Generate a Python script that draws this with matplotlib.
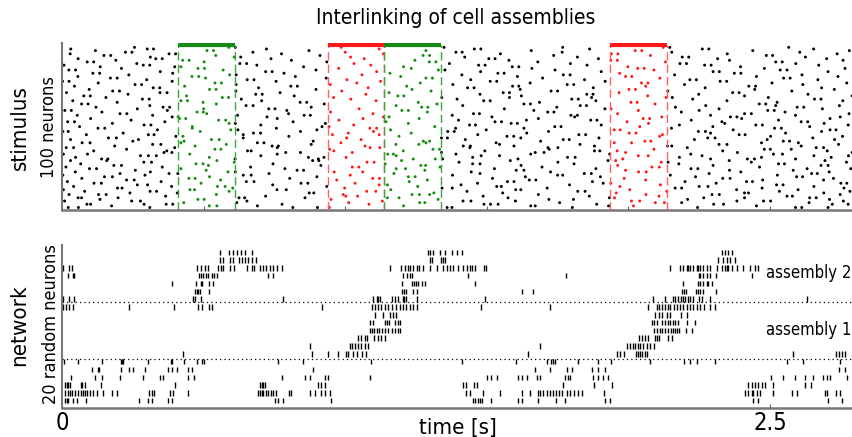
import numpy as np
import matplotlib
matplotlib.use('Agg')
import matplotlib.pyplot as plt
from matplotlib import font_manager

# --- stimulus windows (ms) ---
win_start = [410, 939, 1137, 1935]
win_end = [611, 1137, 1338, 2136]
win_kind = ['green', 'red', 'green', 'red']

# --- stimulus raster: spike times (ms) of the 100 input neurons, neuron 0 at the bottom ---
stim_spikes = [
    [22, 58, 310, 815, 902, 944, 1360, 1377, 1802, 2244, 2590, 2612, 2705],
    [175, 520, 547, 690, 1206, 1655, 1671, 1930, 2018, 2452],
    [88, 101, 290, 368, 391, 777, 1084, 1490, 1513, 1540, 1888, 2301, 2336, 2720, 2776],
    [430, 617, 1012, 1263, 1281, 1757, 2095, 2127, 2188, 2638],
    [9, 246, 277, 653, 1131, 1416, 1444, 1601, 2011, 2040, 2383, 2477, 2502, 2759],
    [134, 480, 502, 950, 1328, 1719, 1806, 2209, 2710],
    [57, 69, 198, 625, 645, 858, 1149, 1190, 1575, 1933, 1951, 2266, 2410, 2640, 2663],
    [366, 719, 1002, 1044, 1487, 1862, 2108, 2560, 2579],
    [25, 129, 156, 545, 993, 1236, 1262, 1298, 1682, 2062, 2295, 2321, 2748],
    [240, 407, 873, 889, 1313, 1556, 1957, 2410, 2424, 2690],
    [80, 311, 334, 590, 1076, 1108, 1430, 1821, 1847, 2135, 2533, 2782],
    [5, 452, 468, 759, 792, 1161, 1602, 1620, 2005, 2382, 2599],
    [196, 212, 603, 998, 1342, 1378, 1713, 2165, 2188, 2472, 2761],
    [41, 387, 549, 576, 935, 1256, 1535, 1551, 1970, 2250, 2281, 2655],
    [266, 302, 744, 1120, 1149, 1409, 1792, 2113, 2523, 2546],
    [113, 139, 491, 844, 868, 1035, 1467, 1911, 1938, 2310, 2750, 2771],
    [19, 350, 651, 678, 1226, 1573, 1596, 1873, 2200, 2417, 2438],
    [228, 255, 560, 970, 1290, 1650, 1673, 2061, 2474, 2689],
    [70, 448, 470, 804, 1097, 1121, 1520, 1985, 2333, 2359, 2724],
    [150, 178, 521, 900, 1223, 1247, 1636, 1901, 2237, 2594, 2615],
    [3, 293, 640, 668, 1018, 1379, 1750, 1768, 2148, 2526],
    [205, 378, 409, 731, 1172, 1476, 1844, 1869, 2285, 2647, 2667],
    [47, 312, 586, 612, 961, 1062, 1445, 1725, 2036, 2063, 2397, 2709],
    [259, 509, 830, 853, 1281, 1604, 1631, 1990, 2357, 2582],
    [97, 122, 420, 787, 1180, 1213, 1527, 1885, 2221, 2245, 2631, 2785],
    [14, 354, 666, 1025, 1048, 1335, 1695, 2083, 2109, 2463],
    [183, 210, 517, 914, 1267, 1284, 1621, 1962, 2299, 2680, 2705],
    [66, 473, 498, 745, 1141, 1450, 1476, 1808, 2178, 2530, 2551],
    [289, 316, 608, 1077, 1102, 1402, 1751, 2116, 2140, 2434, 2770],
    [30, 158, 547, 885, 907, 1199, 1583, 1928, 1955, 2356, 2694],
    [140, 162, 611, 905, 1240, 1318, 1344, 1610, 1980, 2290, 2420, 2445, 2590],
    [48, 520, 870, 925, 1003, 1450, 1785, 1812, 2180, 2470, 2716],
    [277, 305, 333, 702, 1180, 1480, 1545, 2035, 2070, 2260, 2655, 2777],
    [5, 90, 451, 760, 1150, 1170, 1391, 1655, 1934, 2220, 2512, 2544],
    [360, 388, 790, 842, 1025, 1340, 1671, 1702, 1990, 2385, 2790],
    [112, 370, 655, 668, 960, 1205, 1493, 1880, 1899, 1960, 2333, 2702],
    [228, 540, 561, 945, 1310, 1333, 1720, 2090, 2480, 2501, 2575],
    [15, 41, 398, 760, 1088, 1122, 1440, 1716, 1751, 2208, 2663, 2689],
    [186, 470, 742, 764, 1070, 1417, 1442, 1596, 1880, 2138, 2153, 2610],
    [320, 349, 580, 880, 1179, 1260, 1545, 1829, 2320, 2348, 2742],
    [71, 99, 420, 690, 713, 985, 1285, 1533, 1950, 2011, 2470, 2600],
    [250, 431, 887, 1276, 1298, 1690, 2058, 2079, 2547, 2569],
    [30, 270, 528, 555, 1056, 1424, 1770, 1791, 2233, 2490, 2728],
    [164, 192, 640, 1005, 1340, 1361, 1620, 1896, 2280, 2306, 2651],
    [402, 427, 801, 1190, 1571, 1595, 2110, 2502, 2756],
    [86, 305, 325, 640, 955, 1120, 1468, 1825, 1849, 2120, 2391, 2412],
    [216, 676, 701, 1011, 1233, 1641, 2003, 2027, 2290, 2555],
    [3, 22, 488, 842, 1100, 1362, 1385, 1718, 2247, 2272, 2682],
    [337, 596, 621, 900, 1160, 1498, 1950, 1971, 2370, 2712, 2733],
    [127, 151, 460, 757, 1087, 1111, 1390, 1631, 2152, 2516, 2540],
    [62, 460, 918, 943, 1316, 1740, 1762, 2040, 2298, 2640],
    [290, 314, 702, 1030, 1439, 1460, 1904, 2180, 2450, 2473, 2776],
    [178, 590, 612, 930, 1223, 1586, 1608, 2071, 2340, 2691],
    [20, 44, 363, 816, 1144, 1529, 1552, 1995, 2330, 2610, 2633],
    [244, 553, 578, 978, 1400, 1640, 1867, 1889, 2222, 2530],
    [101, 415, 437, 760, 1063, 1261, 1682, 2052, 2075, 2400, 2712],
    [389, 410, 724, 1135, 1155, 1518, 1810, 2118, 2360, 2383, 2748],
    [54, 320, 620, 855, 877, 1378, 1797, 1820, 2290, 2590],
    [205, 229, 511, 800, 1098, 1453, 1474, 1962, 2410, 2434, 2779],
    [141, 477, 499, 948, 1290, 1715, 1737, 2187, 2553],
    [10, 33, 372, 794, 1200, 1223, 1666, 2035, 2250, 2492, 2515],
    [266, 500, 730, 752, 1049, 1562, 1917, 1939, 2320, 2685],
    [120, 357, 380, 880, 1270, 1292, 1747, 2166, 2596, 2619],
    [310, 650, 675, 1180, 1415, 1830, 1852, 2273, 2520, 2745],
    [69, 92, 545, 926, 1324, 1631, 1654, 2094, 2462, 2485],
    [195, 498, 841, 864, 1258, 1686, 2009, 2031, 2525],
    [38, 420, 443, 705, 1109, 1489, 1512, 1885, 2348, 2757],
    [284, 308, 633, 1020, 1395, 1800, 1823, 2227, 2657, 2680],
    [155, 566, 588, 959, 1341, 1580, 1870, 2133, 2155, 2494],
    [77, 100, 440, 820, 1186, 1207, 1622, 2068, 2410, 2790],
    [233, 684, 707, 1073, 1476, 1853, 1875, 2248, 2634],
    [16, 346, 371, 770, 1155, 1558, 1580, 1967, 2368, 2391],
    [179, 203, 614, 988, 1303, 1727, 1750, 2139, 2577],
    [96, 521, 544, 897, 1236, 1618, 2002, 2025, 2446, 2727],
    [322, 345, 694, 1081, 1432, 1455, 1876, 2271, 2682],
    [44, 433, 808, 831, 1217, 1591, 1613, 2061, 2425, 2449],
    [258, 281, 615, 947, 1380, 1784, 1807, 2198, 2616],
    [128, 540, 563, 1041, 1265, 1653, 2046, 2069, 2507, 2771],
    [2, 25, 389, 756, 1125, 1512, 1535, 1918, 2324, 2347],
    [299, 654, 678, 1006, 1443, 1845, 2217, 2240, 2669],
    [171, 195, 507, 933, 1285, 1308, 1697, 2111, 2548, 2571],
    [56, 459, 483, 824, 1196, 1608, 1990, 2012, 2452, 2740],
    [236, 592, 615, 1059, 1412, 1770, 1794, 2163, 2613],
    [109, 133, 391, 784, 1158, 1539, 1561, 1969, 2374, 2397],
    [347, 719, 742, 1111, 1478, 1904, 2299, 2321, 2705],
    [24, 48, 569, 897, 1329, 1352, 1741, 2090, 2536, 2560],
    [210, 480, 503, 977, 1233, 1659, 2033, 2056, 2480, 2765],
    [135, 398, 420, 853, 1206, 1590, 1613, 1998, 2396],
    [7, 287, 310, 688, 1090, 1471, 1494, 1854, 2269, 2292, 2672],
    [264, 628, 652, 1031, 1368, 1795, 2182, 2205, 2591],
    [89, 112, 502, 935, 1297, 1320, 1680, 2131, 2520, 2543],
    [190, 426, 449, 810, 1246, 1578, 1938, 1961, 2357, 2758],
    [57, 331, 354, 738, 1067, 1507, 1529, 1894, 2315, 2700],
    [312, 608, 631, 1019, 1422, 1820, 2190, 2213, 2625],
    [148, 172, 543, 911, 1275, 1298, 1736, 2078, 2487, 2509],
    [29, 378, 401, 775, 1135, 1548, 1940, 1963, 2349, 2737],
    [224, 247, 674, 1000, 1391, 1413, 1766, 2153, 2605],
    [118, 512, 535, 872, 1285, 1657, 2024, 2047, 2439, 2780],
    [31, 301, 323, 722, 1120, 1456, 1479, 1863, 2261, 2284, 2654],
    [256, 589, 612, 986, 1349, 1768, 2123, 2146, 2566],
]

# --- network raster: spike times (ms) of 20 recorded neurons, row 0 at the bottom ---
net_spikes = [
    [11, 18, 21, 39, 53, 85, 272, 304, 318, 374, 388, 752, 763, 780, 950, 1451, 1458, 1469, 1476, 1483,
     1515, 1610, 1624, 1681, 1744, 1776, 1917, 1935, 2440, 2458, 2705, 2754],
    [11, 21, 28, 35, 46, 56, 67, 74, 81, 88, 99, 110, 124, 145, 177, 194, 307, 318, 325, 381, 392, 445,
     692, 699, 706, 710, 720, 727, 738, 745, 756, 802, 809, 876, 893, 915, 929, 946, 1427, 1441, 1487,
     1547, 1624, 1653, 1681, 1688, 1698, 1713, 1723, 1734, 1744, 1755, 1766, 1783, 1794, 1808, 1822,
     1836, 1914, 2412, 2422, 2436, 2440, 2454, 2465, 2511, 2578, 2595, 2694, 2701, 2733, 2747],
    [11, 18, 21, 28, 67, 71, 81, 138, 399, 699, 706, 710, 717, 904, 915, 929, 1416, 1427, 1455, 1465,
     1769, 1879, 1942, 2422, 2436, 2447, 2458, 2472, 2482, 2511, 2624, 2645],
    [32, 117, 141, 205, 286, 346, 357, 445, 466, 777, 858, 876, 929, 939, 1088, 1501, 1515, 1536, 1610,
     1624, 1642, 1677, 1688, 1776, 1787, 1794, 1875, 1893, 1910, 1928, 2504, 2546, 2588, 2624, 2652,
     2687, 2701, 2712, 2772],
    [106, 127, 131, 208, 237, 251, 293, 374, 388, 406, 445, 459, 886, 1670, 1723, 1783, 1801, 1871,
     1893, 1917, 2744, 2765],
    [7, 56, 141, 208, 212, 215, 304, 385, 388, 431, 477, 494, 501, 763, 851, 1091, 1412, 1603, 1712,
     1727, 1734, 1741, 1822, 1893, 1938, 2076, 2196, 2218, 2242, 2306, 2560, 2616, 2747],
    [427, 883, 939, 975, 1003, 1010, 1028, 1042, 1059, 1073, 1645, 1960, 1970, 1984, 2027, 2034, 2041,
     2048, 2059, 2066, 2581, 2733, 2744, 2754, 2765],
    [876, 1017, 1024, 1035, 1045, 1056, 1070, 1080, 1688, 1995, 2006, 2016, 2023, 2034, 2041, 2051,
     2066, 2076, 2090],
    [1045, 1056, 1070, 1077, 1102, 1116, 1126, 1141, 2037, 2048, 2059, 2069, 2094, 2101, 2108, 2140,
     2154],
    [1088, 1095, 1102, 1112, 1119, 1130, 1141, 1151, 1165, 1176, 1186, 1194, 2090, 2101, 2112, 2119,
     2129, 2140, 2150, 2157, 2165, 2172, 2179, 2203, 2225],
    [1088, 1098, 1141, 1148, 1155, 1176, 1186, 1194, 2083, 2090, 2101, 2119, 2129, 2140, 2147, 2157,
     2165, 2175, 2207, 2235],
    [1105, 1133, 1158, 1169, 1179, 2094, 2108, 2119, 2136, 2147, 2186, 2207],
    [4, 14, 25, 39, 237, 396, 480, 494, 519, 530, 918, 1095, 1105, 1116, 1126, 1141, 1151, 1165, 1179,
     1194, 1204, 1215, 1229, 1239, 1254, 1480, 1723, 2069, 2101, 2108, 2119, 2129, 2140, 2147, 2161,
     2172, 2182, 2193, 2207, 2218, 2228, 2242, 2253, 2267, 2288, 2306],
    [4, 25, 42, 463, 470, 491, 780, 1098, 1112, 1116, 1123, 1165, 1176, 1186, 1204, 1208, 1215, 1254,
     1494, 2087, 2129, 2157, 2165, 2175, 2186, 2193, 2200, 2210, 2218, 2228, 2249, 2260, 2288, 2631],
    [470, 477, 480, 487, 519, 1200, 1208, 1215, 1239, 1253, 1624, 1663, 2189, 2196, 2203, 2239, 2246,
     2253, 2263, 2309],
    [388, 473, 491, 494, 519, 533, 1200, 1236, 1243, 1250, 1257, 1271, 1282, 1458, 2193, 2246, 2253,
     2263, 2278, 2281, 2295],
    [21, 39, 42, 484, 491, 498, 508, 516, 530, 537, 547, 727, 745, 1204, 1218, 1229, 1236, 1434, 1780,
     2249, 2253, 2263, 2278, 2288, 2309, 2436],
    [4, 25, 35, 477, 491, 505, 516, 551, 561, 569, 593, 607, 653, 671, 678, 699, 710, 720, 734, 745,
     759, 777, 1158, 1197, 1211, 1222, 1229, 1239, 1254, 1261, 1275, 1299, 1324, 1345, 1359, 1370,
     1381, 1398, 1416, 1430, 1441, 1448, 1458, 1490, 1497, 2147, 2182, 2193, 2207, 2210, 2218, 2228,
     2242, 2246, 2253, 2263, 2278, 2288, 2313, 2331, 2341, 2348, 2352, 2366, 2383, 2405, 2429, 2447,
     2458],
    [558, 569, 593, 604, 625, 636, 646, 657, 671, 685, 1299, 1306, 1338, 1345, 1352, 2316, 2334, 2348,
     2359, 2376],
    [558, 590, 604, 618, 632, 646, 671, 1292, 1299, 1310, 1335, 1352, 1377, 1395, 1412, 2330, 2341,
     2352, 2366],
]

assembly_lines = [5.35, 12.62]
assembly_labels = ['assembly 1', 'assembly 2']
assembly_label_rows = [9.05, 16.35]

win_colors = {'green': '#158a15', 'red': '#ff1a1a'}
edge_colors = {'green': '#3aa83a', 'red': '#ff6060'}

TMAX = 2.793

# pick a narrow sans font if one is installed
names = {f.name for f in font_manager.fontManager.ttflist}
stretches = {(f.name, f.stretch) for f in font_manager.fontManager.ttflist}
if 'Liberation Sans Narrow' in names:
    FONT = dict(family=['Liberation Sans Narrow', 'DejaVu Sans'])
elif any(n == 'DejaVu Sans' and s in ('condensed', 'semi-condensed', 600, 500) for n, s in stretches):
    FONT = dict(family=['DejaVu Sans'], stretch='condensed')
else:
    FONT = dict(family=['Liberation Sans', 'DejaVu Sans'])

fig = plt.figure(figsize=(8.53, 4.37), dpi=100)
ax1 = fig.add_axes([62 / 853, 1 - 210 / 437, 1 - 62 / 853, 167 / 437])
ax2 = fig.add_axes([62 / 853, 1 - 408.3 / 437, 1 - 62 / 853, 163.3 / 437])

# stimulus panel
for n, times in enumerate(stim_spikes):
    t = np.array(times) / 1000.0
    cols = np.array(['black'] * len(t), dtype=object)
    for s, e, k in zip(win_start, win_end, win_kind):
        inside = (t >= s / 1000.0) & (t < e / 1000.0)
        cols[inside] = win_colors[k]
    ax1.scatter(t, np.full(len(t), n), s=4.5, c=list(cols), marker='o', linewidths=0)

bar_y = 100.5
for s, e, k in zip(win_start, win_end, win_kind):
    ax1.plot([s / 1000.0, e / 1000.0], [bar_y, bar_y], color=win_colors[k], lw=3,
             solid_capstyle='butt', zorder=4)
    for xx in (s / 1000.0, e / 1000.0):
        ax1.plot([xx, xx], [-1.55, bar_y], color=edge_colors[k], lw=1.0, ls=(0, (6, 3)), zorder=3)

ax1.set_xlim(0, TMAX)
ax1.set_ylim(-1.55, 101.7)
ax1.set_xticks([0, 0.5, 1.0, 1.5, 2.0, 2.5])
ax1.set_xticklabels([])
ax1.set_yticks([])
ax1.tick_params(axis='x', direction='in', length=3, color='#666666')

# network panel
ax2.eventplot([np.array(t) / 1000.0 for t in net_spikes], lineoffsets=range(len(net_spikes)),
              linelengths=0.7, linewidths=1.0, colors='black')
for yy in assembly_lines:
    ax2.axhline(yy, color='black', lw=0.9, ls=(0, (1, 2.5)))
for lab, r in zip(assembly_labels, assembly_label_rows):
    ax2.text(2.786, r, lab, fontsize=12, va='center', ha='right', **FONT)

ax2.set_xlim(0, TMAX)
ax2.set_ylim(-0.98, 19.94)
ax2.set_yticks([])
ax2.set_xticks([0, 2.5])
ax2.set_xticklabels(['0', '2.5'], fontsize=17, **FONT)
ax2.tick_params(axis='x', direction='in', length=3, color='#666666', pad=2)
ax2.set_xlabel('time [s]', fontsize=16, labelpad=-12, **FONT)

for ax in (ax1, ax2):
    ax.spines['top'].set_visible(False)
    ax.spines['right'].set_visible(False)
    ax.spines['left'].set_color('#777777')
    ax.spines['bottom'].set_color('#777777')
    ax.spines['left'].set_linewidth(1.5)
    ax.spines['bottom'].set_linewidth(1.8)

fig.text(20 / 853, 1 - 127.5 / 437, 'stimulus', rotation=90, fontsize=16, ha='center', va='center', **FONT)
fig.text(49 / 853, 1 - 127.5 / 437, '100 neurons', rotation=90, fontsize=13, ha='center', va='center', **FONT)
fig.text(19 / 853, 1 - 325 / 437, 'network', rotation=90, fontsize=16, ha='center', va='center', **FONT)
fig.text(51 / 853, 1 - 324 / 437, '20 random neurons', rotation=90, fontsize=13, ha='center', va='center', **FONT)
fig.text(0.534, 1 - 18 / 437, 'Interlinking of cell assemblies', ha='center', va='center', fontsize=15, **FONT)

fig.savefig('out.png', dpi=100)
